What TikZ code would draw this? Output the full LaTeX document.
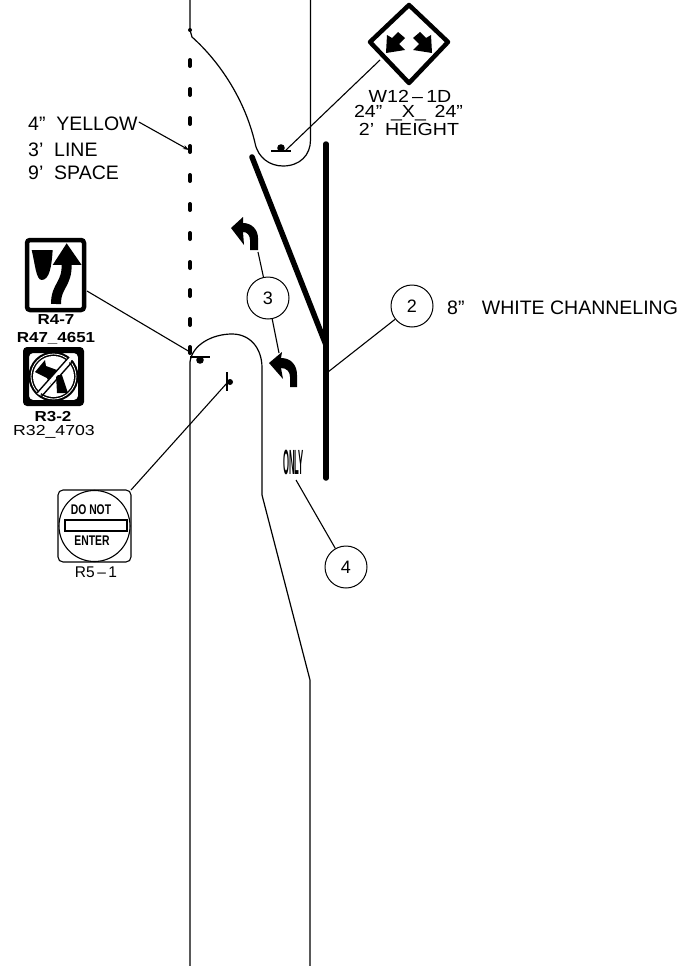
\documentclass[tikz,border=0pt]{standalone}
\usepackage{fontspec}
\usetikzlibrary{arrows.meta}
\setmainfont{Liberation Sans}
\tikzset{
  road/.style={line width=1.2pt},
  leader/.style={line width=1.1pt},
  dashy/.style={line width=4pt,line cap=round},
  chan/.style={line width=5.5pt,line cap=round},
  num/.style={circle,draw,line width=1pt,minimum size=42pt,inner sep=0pt,font=\fontsize{18}{18}\selectfont},
  lab/.style={inner sep=0pt,font=\fontsize{19.5}{19.5}\selectfont},
  lableft/.style={lab,anchor=west},
  signlab/.style={inner sep=0pt,font=\fontsize{17.5}{17.5}\selectfont,xscale=1.12},
  boldlab/.style={inner sep=0pt,font=\bfseries\fontsize{14.5}{14.5}\selectfont,xscale=1.17},
  plainlab/.style={inner sep=0pt,font=\fontsize{14.5}{14.5}\selectfont,xscale=1.22},
  signtext/.style={inner sep=0pt,font=\bfseries\fontsize{14}{14}\selectfont,xscale=.74},
}
\begin{document}
\begin{tikzpicture}[x=1pt,y=-1pt]
\useasboundingbox (0,0) rectangle (681,966);
\fill[white] (0,0) rectangle (681,966);
% road edges
\draw[road] (190,0) -- (190,30) -- (192,37) .. controls (220,62) and (245,100) .. (255,143) .. controls (258,158) and (270,166) .. (283,166) .. controls (300,166) and (310.5,155) .. (310.5,140) -- (310.5,0);
\fill (190,30) circle (2pt);
\draw[road] (190,966) -- (190,362) .. controls (192,345) and (212,334) .. (232,334) .. controls (250,334) and (262,348) .. (262,368) -- (262,495) -- (310,680) -- (310,966);
% yellow dashes
\foreach \i in {63,92,121,149,178,207,236,265,293,322,350}
  \draw[dashy] (190,\i-3) -- (190,\i+3);
% channelizing
\draw[chan] (326,144) -- (326,478);
\draw[chan] (252,157) -- (326,345);
% post W12
\fill (281,148) circle (3.8pt);
\draw[road] (271,151) -- (291,151);
\coordinate (w12post) at (285,151);
\coordinate (w12sign) at (380,60);
\draw[leader] (w12post) -- (w12sign);
% diamond
\draw[line width=4.5pt,line join=round,fill=white] (409,5) -- (448,42) -- (409,83) -- (370,42) -- cycle;
\fill (386,53) -- (387,35) -- (392,38) -- (398,32) -- (405,38) -- (399,44) -- (405,50) -- cycle;
\fill (432,53) -- (431,35) -- (426,38) -- (420,32) -- (413,38) -- (419,44) -- (413,50) -- cycle;
\node[signlab] (w12a) at (410,96) {W12\,\textendash\,1D};
\node[signlab] (w12b) at (408.5,113) {24"\ \,\_X\_\ \,24"};
\node[signlab] (w12c) at (409,129) {2'\ \ HEIGHT};
% left label
\node[lableft] (ya) at (28,124) {4"\ \ YELLOW};
\node[lableft] (yb) at (28,150) {3'\ \ LINE};
\node[lableft] (yc) at (28,173) {9'\ \ SPACE};
\coordinate (yarrow) at (189,150);
\draw[leader,-{Stealth[length=6pt,width=4pt]}] (ya.east) ++(1,-2) -- (yarrow);
% R4-7
\draw[line width=4.5pt,rounded corners=3pt] (27,240) rectangle (84,310);
\begin{scope}[shift={(10,230)},x=0.3333pt,y=-0.3333pt]
\fill (65,60) -- (128,60) .. controls (125,110) and (118,150) .. (95,150) .. controls (78,150) and (75,100) .. (65,60) -- cycle;
\fill (170,40) -- (215,105) -- (128,105) -- cycle;
\draw[line width=10pt] (170,100) .. controls (172,165) and (138,165) .. (138,222);
\end{scope}
\node[boldlab] (r47a) at (56,320) {R4-7};
\node[boldlab] (r47b) at (56,338) {R47\_4651};
\coordinate (r47lead) at (87,291);
\coordinate (r47post) at (190,352);
\draw[leader] (r47lead) -- (r47post);
\draw[road] (190,357) -- (210,357);
\fill (200,360) circle (3.8pt);
\fill (190,351) circle (2pt);
% R3-2
\fill[rounded corners=4pt,even odd rule] (23,347) rectangle (84,406) (29,353) rectangle (78,400);
\fill (53.5,376.5) circle (25pt);
\draw[white,line width=.8pt] (53.5,376.5) circle (22.5pt);
\fill[white] (53.5,376.5) circle (20.5pt);
\fill (35,372) -- (45,360) -- (46,366) -- (57,370) -- (50,384) -- (47,378) -- cycle;
\fill (56,375) -- (62,375) -- (68,393) -- (57,393) -- cycle;
\draw[white,line width=3.5pt] (38,394) -- (71,358);
\draw[line width=1.4pt] (37,393) -- (69,357);
\draw[line width=1.4pt] (41,397) -- (73,361);
\node[boldlab] (r32a) at (53,416.5) {R3-2};
\node[plainlab] (r32b) at (54,432) {R32\_4703};
% R5-1 post and sign
\draw[road] (227,372) -- (227,391);
\fill (230,382) circle (3pt);
\coordinate (r5post) at (227,383);
\coordinate (r5sign) at (131,490);
\draw[leader] (r5post) -- (r5sign);
\draw[line width=1.1pt,rounded corners=5pt] (58,490) rectangle (131,562);
\draw[line width=1.1pt] (94.5,526) circle (35.5pt);
\draw[line width=1.1pt,fill=white] (65,520) rectangle (127,531);
\node[signtext] (dn) at (91,510) {DO NOT};
\node[signtext] (en) at (92,541) {ENTER};
\node[lab,font=\fontsize{15.5}{15.5}\selectfont] (r51) at (96,572) {R5\,\textendash\,1};
% turn arrows
\fill (231,228) -- (243,217) -- (243,223) .. controls (252,223) and (258,230) .. (258,238) -- (258,250) -- (250,250) -- (250,240) .. controls (250,235) and (247,232) .. (243,232) -- (244,245) -- cycle;
\fill (269,363) -- (282,352) -- (281,358) .. controls (291,358) and (297,365) .. (297,375) -- (297,387) -- (290,387) -- (290,377) .. controls (290,372) and (287,368) .. (281,368) -- (283,379) -- cycle;
\node[num] (n3) at (268,298) {3};
\node[num] (n2) at (412,306) {2};
\node[num] (n4) at (346,567) {4};
\coordinate (a1) at (258,252);
\coordinate (a2) at (279,353);
\coordinate (a3) at (328,372);
\coordinate (a4) at (296,480);
\draw[leader] (n3) -- (a1);
\draw[leader] (n3) -- (a2);
\draw[leader] (n2) -- (a3);
\draw[leader] (n4) -- (a4);
\node[lableft] (wc) at (447,308) {8"\ \ \,\,WHITE CHANNELING};
\node[inner sep=0pt,font=\bfseries\fontsize{10}{10}\selectfont,xscale=.77,yscale=3.5] (only) at (293.5,462) {ONLY};
\end{tikzpicture}
\end{document}
